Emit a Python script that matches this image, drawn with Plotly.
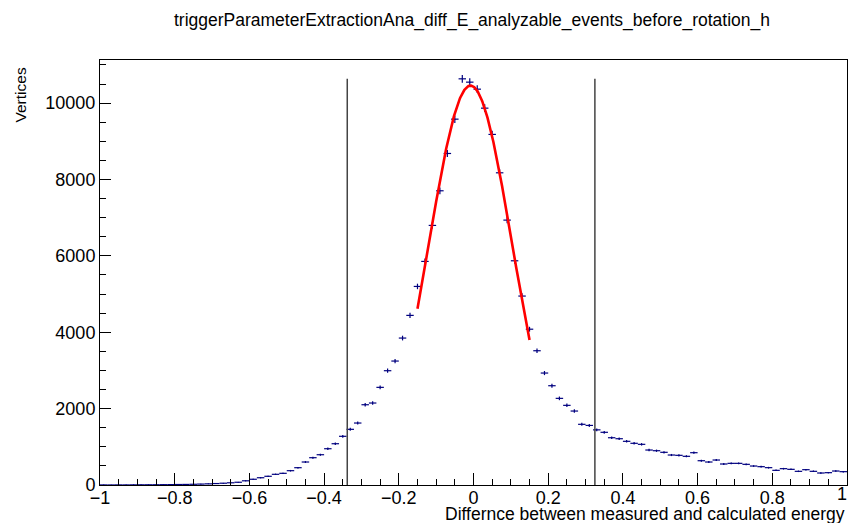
import numpy as np
import plotly.graph_objects as go

# Histogram: 100 bins from -1 to 1
bin_lo, bin_hi, n_bins = -1.0, 1.0, 100
counts = [
    2, 1, 3, 2, 4, 5, 6, 7, 9, 10,
    13, 15, 19, 24, 30, 38, 47, 58, 72, 110,
    150, 190, 228, 280, 306, 375, 453, 602, 715, 793,
    950, 1081, 1275, 1458, 1623, 2102, 2147, 2557, 2993, 3246,
    3848, 4442, 5200, 5855, 6798, 7705, 8682, 9581, 10637, 10550,
    10366, 9869, 9181, 8176, 6937, 5872, 4948, 4080, 3516, 2932,
    2600, 2269, 2086, 1937, 1589, 1560, 1444, 1380, 1238, 1212,
    1144, 1092, 1065, 916, 898, 856, 785, 777, 751, 846,
    636, 602, 654, 550, 567, 567, 541, 497, 480, 454,
    384, 428, 410, 358, 401, 358, 314, 323, 366, 349,
]

# Gaussian fit parameters
fit_amp, fit_mean, fit_sigma = 10460.0, -0.008, 0.111
fit_lo, fit_hi = -0.15, 0.15

# Cut lines
cut_lo, cut_hi = -0.338, 0.325

# Axis ticks
x_tickvals = [-1, -0.8, -0.6, -0.4, -0.2, 0, 0.2, 0.4, 0.6, 0.8]
x_ticktext = ["\u22121", "\u22120.8", "\u22120.6", "\u22120.4", "\u22120.2", "0",
              "0.2", "0.4", "0.6", "0.8"]
x_last_tick, x_last_text = 1, "1"
y_tickvals = [0, 2000, 4000, 6000, 8000, 10000]
y_ticktext = ["0", "2000", "4000", "6000", "8000", "10000"]

title = "triggerParameterExtractionAna_diff_E_analyzable_events_before_rotation_h"
x_title = "Differnce between measured and calculated energy"
y_title = "Vertices"

width = (bin_hi - bin_lo) / n_bins
centers = bin_lo + width * (np.arange(n_bins) + 0.5)
counts_arr = np.array(counts, dtype=float)
errs = np.sqrt(counts_arr)

xf = np.linspace(fit_lo, fit_hi, 300)
yf = fit_amp * np.exp(-0.5 * ((xf - fit_mean) / fit_sigma) ** 2)

ymax = counts_arr.max()
navy = "#00007f"

fig = go.Figure()
fig.add_trace(go.Scatter(
    x=centers, y=counts_arr, mode="markers",
    marker=dict(size=1, color=navy),
    error_x=dict(type="constant", value=width / 2, color=navy, thickness=1.2, width=0),
    error_y=dict(type="data", array=errs, color=navy, thickness=1.2, width=0),
    showlegend=False, hoverinfo="skip",
))
fig.add_trace(go.Scatter(
    x=xf, y=yf, mode="lines", line=dict(color="#ff0000", width=2.6),
    showlegend=False, hoverinfo="skip",
))
for cx in (cut_lo, cut_hi):
    fig.add_trace(go.Scatter(
        x=[cx, cx], y=[0, ymax], mode="lines",
        line=dict(color="#444444", width=1.5),
        showlegend=False, hoverinfo="skip",
    ))

font_family = "Liberation Sans, Arial, Helvetica, sans-serif"
tick_size = 18
fig.update_layout(
    width=849, height=523,
    margin=dict(l=100, r=2, t=60, b=38),
    paper_bgcolor="white", plot_bgcolor="white",
    font=dict(family=font_family, size=17, color="black"),
    title=dict(text=title, x=472 / 849, xanchor="center", y=1 - 20 / 523, yanchor="middle",
               font=dict(size=17.5, family=font_family, color="black")),
    xaxis=dict(
        range=[bin_lo, bin_hi], tickmode="array", tickvals=x_tickvals, ticktext=x_ticktext,
        showgrid=False, zeroline=False,
        showline=True, linecolor="black", linewidth=1, mirror=True,
        ticks="inside", ticklen=12, tickwidth=1, tickcolor="black",
        minor=dict(dtick=0.05, tick0=-1, ticks="inside", ticklen=6, tickcolor="black", showgrid=False),
        tickfont=dict(size=tick_size), ticklabelstandoff=-4,
    ),
    yaxis=dict(
        range=[0, 11130], tickmode="array", tickvals=y_tickvals, ticktext=y_ticktext,
        showgrid=False, zeroline=False,
        showline=True, linecolor="black", linewidth=1, mirror=True,
        ticks="inside", ticklen=11, tickwidth=1, tickcolor="black",
        minor=dict(dtick=500, tick0=0, ticks="inside", ticklen=6, tickcolor="black", showgrid=False),
        tickfont=dict(size=tick_size),
    ),
    annotations=[
        dict(text=x_last_text, xref="x", yref="paper", x=x_last_tick, y=-(494 - 485) / 425,
             xanchor="right", yanchor="middle", xshift=2, showarrow=False, font=dict(size=tick_size)),
        dict(text=x_title, xref="paper", yref="paper", x=1.0, y=-(514 - 485) / 425,
             xanchor="right", yanchor="middle", showarrow=False, font=dict(size=17.5)),
        dict(text=y_title, xref="paper", yref="paper", x=(20 - 100) / 747, y=(485 - 66) / 425,
             xanchor="center", yanchor="top", textangle=-90, showarrow=False, font=dict(size=15.5)),
    ],
)

fig.write_html("out.html")
